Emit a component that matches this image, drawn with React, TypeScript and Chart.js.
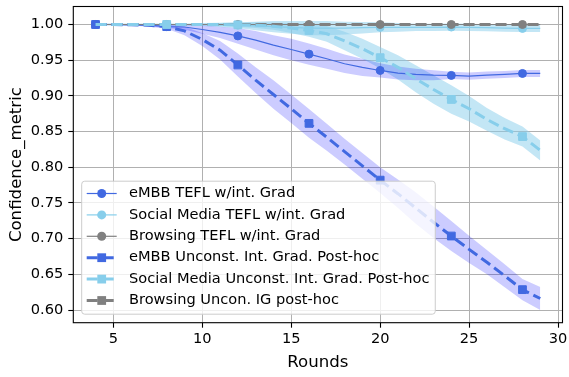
import React, { useEffect, useRef } from 'react';
import { Chart, registerables } from 'chart.js';

Chart.register(...registerables);

// ---------------- data ----------------
const rounds = [4, 5, 6, 7, 8, 9, 10, 11, 12, 13, 14, 15, 16, 17, 18, 19, 20, 21, 22, 23, 24, 25, 26, 27, 28, 29];
const xTicks = [5, 10, 15, 20, 25, 30];
const yTicks = [0.6, 0.65, 0.7, 0.75, 0.8, 0.85, 0.9, 0.95, 1.0];

const seriesLabels = [
  'eMBB TEFL w/int. Grad',
  'Social Media TEFL w/int. Grad',
  'Browsing TEFL w/int. Grad',
  'eMBB Unconst. Int. Grad. Post-hoc',
  'Social Media Unconst. Int. Grad. Post-hoc',
  'Browsing Uncon. IG post-hoc',
];

// rounds at which each series shows a visible marker in the plot
const embbTeflMarkers = [4, 8, 12, 16, 20, 24, 28];
const socialTeflMarkers = [4, 8, 12, 16, 20, 24, 28];
const browsingTeflMarkers = [4, 8, 12, 16, 20, 24, 28];
const embbPostMarkers = [4, 8, 12, 16, 20, 24, 28];
const socialPostMarkers = [8, 12, 16, 20, 24, 28];
const browsingPostMarkers: number[] = [];

const embbTefl = [1.0, 1.0, 0.9995, 0.999, 0.997, 0.9965, 0.993, 0.989, 0.984, 0.978, 0.971, 0.965, 0.9585, 0.952, 0.945, 0.94, 0.9356, 0.932, 0.93, 0.929, 0.9287, 0.9277, 0.929, 0.93, 0.9314, 0.9314];
const embbTeflStd = [0.0005, 0.0005, 0.001, 0.0015, 0.002, 0.004, 0.006, 0.008, 0.011, 0.013, 0.014, 0.015, 0.015, 0.014, 0.013, 0.012, 0.01, 0.009, 0.008, 0.007, 0.005, 0.005, 0.005, 0.005, 0.005, 0.005];

const socialTefl = [1.0, 1.0, 1.0, 1.0, 1.0, 1.0, 1.0, 0.9995, 0.999, 0.998, 0.997, 0.996, 0.995, 0.995, 0.995, 0.9955, 0.996, 0.996, 0.996, 0.996, 0.9964, 0.996, 0.9955, 0.995, 0.9945, 0.9945];
const socialTeflStd = [0.001, 0.001, 0.001, 0.001, 0.001, 0.001, 0.002, 0.003, 0.004, 0.006, 0.008, 0.009, 0.01, 0.01, 0.009, 0.008, 0.007, 0.006, 0.005, 0.005, 0.005, 0.005, 0.005, 0.005, 0.005, 0.005];

const browsingTefl = [1.0, 1.0, 1.0, 1.0, 1.0, 1.0, 1.0, 1.0, 1.0, 1.0, 1.0, 1.0, 1.0, 1.0, 1.0, 1.0, 1.0, 1.0, 1.0, 1.0, 1.0, 1.0, 1.0, 1.0, 1.0, 1.0];
const browsingTeflStd = [0.0005, 0.0005, 0.0005, 0.0005, 0.0005, 0.0005, 0.0005, 0.0005, 0.0005, 0.0005, 0.0005, 0.0005, 0.0005, 0.0005, 0.0005, 0.0005, 0.0005, 0.0005, 0.0005, 0.0005, 0.0005, 0.0005, 0.0005, 0.0005, 0.0005, 0.0005];

const embbPost = [1.0, 1.0, 0.9995, 0.999, 0.997, 0.991, 0.979, 0.964, 0.9433, 0.922, 0.902, 0.882, 0.8615, 0.842, 0.822, 0.802, 0.782, 0.763, 0.743, 0.723, 0.7037, 0.685, 0.667, 0.648, 0.6286, 0.6162];
const embbPostStd = [0.001, 0.001, 0.001, 0.002, 0.003, 0.006, 0.009, 0.013, 0.016, 0.018, 0.02, 0.02, 0.02, 0.019, 0.018, 0.018, 0.018, 0.02, 0.022, 0.022, 0.021, 0.019, 0.017, 0.016, 0.015, 0.016];

const socialPost = [1.0, 1.0, 1.0, 1.0, 1.0, 1.0, 1.0, 1.0, 0.9995, 0.999, 0.9975, 0.995, 0.9917, 0.987, 0.977, 0.966, 0.9535, 0.94, 0.924, 0.909, 0.895, 0.882, 0.867, 0.854, 0.843, 0.8236];
const socialPostStd = [0.001, 0.001, 0.001, 0.001, 0.001, 0.001, 0.001, 0.002, 0.003, 0.004, 0.005, 0.007, 0.009, 0.011, 0.013, 0.014, 0.015, 0.017, 0.019, 0.02, 0.02, 0.018, 0.016, 0.015, 0.014, 0.014];

const browsingPost = [1.0, 1.0, 1.0, 1.0, 1.0, 1.0, 1.0, 1.0, 1.0, 1.0, 1.0, 1.0, 1.0, 1.0, 1.0, 1.0, 1.0, 1.0, 1.0, 1.0, 1.0, 1.0, 1.0, 1.0, 1.0, 1.0];
const browsingPostStd = [0.0005, 0.0005, 0.0005, 0.0005, 0.0005, 0.0005, 0.0005, 0.0005, 0.0005, 0.0005, 0.0005, 0.0005, 0.0005, 0.0005, 0.0005, 0.0005, 0.0005, 0.0005, 0.0005, 0.0005, 0.0005, 0.0005, 0.0005, 0.0005, 0.0005, 0.0005];

const seriesMeans = [embbTefl, socialTefl, browsingTefl, embbPost, socialPost, browsingPost];
const seriesStds = [embbTeflStd, socialTeflStd, browsingTeflStd, embbPostStd, socialPostStd, browsingPostStd];
const seriesMarkers = [embbTeflMarkers, socialTeflMarkers, browsingTeflMarkers, embbPostMarkers, socialPostMarkers, browsingPostMarkers];

// ---------------- styles ----------------
const FONT = '"DejaVu Sans", "Liberation Sans", sans-serif';
const lineColors = ['#4169E1', '#87CEEB', '#808080', '#4169E1', '#87CEEB', '#808080'];
const bandColors = [
  'rgba(0,0,255,0.2)',
  'rgba(135,206,235,0.5)',
  'rgba(128,128,128,0.2)',
  'rgba(0,0,255,0.2)',
  'rgba(135,206,235,0.5)',
  'rgba(128,128,128,0.2)',
];
const isPostHoc = [false, false, false, true, true, true];
// drawing stack (higher = drawn later / on top)
const stackLevel = [0, 1, 2, 4, 5, 3];
const DASH = [11, 5];
const CIRCLE_R = 4;
const RECT_R = 5.5;

const frameAndLegend = {
  id: 'frameAndLegend',
  afterDatasetsDraw(chart: any) {
    const ctx = chart.ctx as CanvasRenderingContext2D;
    const a = chart.chartArea;
    ctx.save();
    // spines
    ctx.strokeStyle = '#000';
    ctx.lineWidth = 1.1;
    ctx.setLineDash([]);
    ctx.strokeRect(a.left, a.top, a.right - a.left, a.bottom - a.top);

    // legend (matplotlib-like, lower left)
    const fs = 14.6;
    ctx.font = `${fs}px ${FONT}`;
    const n = seriesLabels.length;
    const rowH = 21.4;
    const padTop = 12.3;
    const padBottom = 13.7;
    const maxW = Math.max(...seriesLabels.map((l) => ctx.measureText(l).width));
    const bx = a.left + 8.4;
    const hx0 = bx + 5;
    const hLen = 30;
    const tx = hx0 + hLen + 12.3;
    const w = tx - bx + maxW + 5.8;
    const h = padTop + padBottom + rowH * (n - 1);
    const by = a.bottom - 8.5 - h;
    const r = 3;
    ctx.beginPath();
    ctx.moveTo(bx + r, by);
    ctx.lineTo(bx + w - r, by);
    ctx.arcTo(bx + w, by, bx + w, by + r, r);
    ctx.lineTo(bx + w, by + h - r);
    ctx.arcTo(bx + w, by + h, bx + w - r, by + h, r);
    ctx.lineTo(bx + r, by + h);
    ctx.arcTo(bx, by + h, bx, by + h - r, r);
    ctx.lineTo(bx, by + r);
    ctx.arcTo(bx, by, bx + r, by, r);
    ctx.closePath();
    ctx.fillStyle = 'rgba(255,255,255,0.8)';
    ctx.fill();
    ctx.strokeStyle = '#cccccc';
    ctx.lineWidth = 1;
    ctx.stroke();

    for (let i = 0; i < n; i++) {
      const y = by + padTop + i * rowH;
      const c = lineColors[i];
      ctx.strokeStyle = c;
      ctx.fillStyle = c;
      ctx.lineWidth = isPostHoc[i] ? 3 : 1.2;
      ctx.setLineDash(isPostHoc[i] ? DASH : []);
      ctx.beginPath();
      ctx.moveTo(hx0, y);
      ctx.lineTo(hx0 + hLen, y);
      ctx.stroke();
      ctx.setLineDash([]);
      const mx = hx0 + hLen / 2;
      if (isPostHoc[i]) {
        const s = RECT_R * Math.SQRT1_2 + 0.5;
        ctx.fillRect(mx - s, y - s, 2 * s, 2 * s);
      } else {
        ctx.beginPath();
        ctx.arc(mx, y, CIRCLE_R + 0.5, 0, Math.PI * 2);
        ctx.fill();
      }
      ctx.fillStyle = '#000';
      ctx.textAlign = 'left';
      ctx.textBaseline = 'middle';
      ctx.fillText(seriesLabels[i], tx, y);
    }
    ctx.restore();
  },
};

export default function App() {
  const canvasRef = useRef<HTMLCanvasElement | null>(null);

  useEffect(() => {
    if (!canvasRef.current) return;
    Chart.defaults.font.family = FONT;

    const datasets: any[] = [];
    // bands first (drawn behind)
    seriesMeans.forEach((mean, i) => {
      const std = seriesStds[i];
      const lowerIdx = datasets.length;
      datasets.push({
        label: `_lower${i}`,
        data: rounds.map((r, k) => ({ x: r, y: mean[k] - std[k] })),
        borderWidth: 0,
        pointRadius: 0,
        fill: false,
        order: 100,
      });
      datasets.push({
        label: `_upper${i}`,
        data: rounds.map((r, k) => ({ x: r, y: mean[k] + std[k] })),
        borderWidth: 0,
        pointRadius: 0,
        backgroundColor: bandColors[i],
        fill: lowerIdx,
        order: 100,
      });
    });
    // mean lines
    seriesMeans.forEach((mean, i) => {
      const marks = seriesMarkers[i];
      datasets.push({
        label: seriesLabels[i],
        data: rounds.map((r, k) => ({ x: r, y: mean[k] })),
        borderColor: lineColors[i],
        backgroundColor: lineColors[i],
        borderWidth: isPostHoc[i] ? 3 : 1.2,
        borderDash: isPostHoc[i] ? DASH : [],
        pointStyle: isPostHoc[i] ? 'rect' : 'circle',
        pointRadius: (c: any) => (marks.includes(rounds[c.dataIndex]) ? (isPostHoc[i] ? RECT_R : CIRCLE_R) : 0),
        pointBackgroundColor: lineColors[i],
        pointBorderColor: lineColors[i],
        pointBorderWidth: 1,
        fill: false,
        tension: 0,
        order: 50 - stackLevel[i],
      });
    });

    const tickFont = { family: FONT, size: 14.6 };
    const titleFont = { family: FONT, size: 16.6 };

    const chart = new Chart(canvasRef.current, {
      type: 'line',
      data: { datasets },
      plugins: [frameAndLegend],
      options: {
        animation: false,
        responsive: false,
        maintainAspectRatio: false,
        devicePixelRatio: 1,
        layout: { padding: { left: 0, right: 4.2, top: 2.5, bottom: 0 } },
        plugins: {
          legend: { display: false },
          tooltip: { enabled: false },
        },
        scales: {
          x: {
            type: 'linear',
            min: 2.75,
            max: 30.25,
            afterBuildTicks: (s: any) => {
              s.ticks = xTicks.map((v) => ({ value: v }));
            },
            afterFit: (s: any) => {
              s.height = 54.3;
              s.paddingLeft = 0;
              s.paddingRight = 0;
            },
            ticks: {
              font: tickFont,
              color: '#000',
              padding: 3,
              maxRotation: 0,
              autoSkip: false,
              callback: (v: any) => String(v),
            },
            grid: { color: '#b0b0b0', lineWidth: 1, tickColor: '#000', tickLength: 5, tickWidth: 1.1 },
            border: { display: false },
            title: {
              display: true,
              text: 'Rounds',
              font: titleFont,
              color: '#000',
              padding: { top: 0, bottom: 4.5 },
            },
          },
          y: {
            type: 'linear',
            min: 0.5823,
            max: 1.0252,
            afterBuildTicks: (s: any) => {
              s.ticks = yTicks.map((v) => ({ value: v }));
            },
            afterFit: (s: any) => {
              s.width = 73.3;
              s.paddingTop = 0;
              s.paddingBottom = 0;
            },
            ticks: {
              font: tickFont,
              color: '#000',
              padding: 5,
              autoSkip: false,
              callback: (v: any) => Number(v).toFixed(2),
            },
            grid: { color: '#b0b0b0', lineWidth: 1, tickColor: '#000', tickLength: 5, tickWidth: 1.1 },
            border: { display: false },
            title: {
              display: true,
              text: 'Confidence_metric',
              font: titleFont,
              color: '#000',
              padding: { top: 7, bottom: 0 },
            },
          },
        },
      },
    });

    return () => {
      chart.destroy();
    };
  }, []);

  return (
    <div style={{ position: 'fixed', left: 0, top: 0, width: 569, height: 377, background: '#fff' }}>
      <canvas ref={canvasRef} width={569} height={377} style={{ display: 'block', width: 569, height: 377 }} />
    </div>
  );
}
